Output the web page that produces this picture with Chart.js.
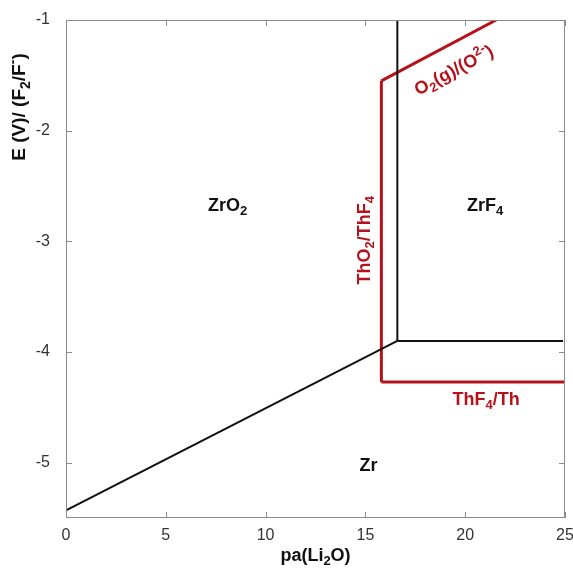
<!DOCTYPE html>
<html>
<head>
<meta charset="utf-8">
<script src="https://cdn.jsdelivr.net/npm/chart.js@4"></script>
<style>
    html, body { margin: 0; padding: 0; background: #fff; }
    #wrap { width: 573px; height: 569px; }
</style>
</head>
<body>
<div id="wrap"><canvas id="chart" width="573" height="569"></canvas></div>
<script>
// 軸の目盛り
const xTicks = [0, 5, 10, 15, 20, 25];
const yTicks = [-1, -2, -3, -4, -5];

// Zr 系の境界線（黒）
const zrO2ZrX = [0, 16.6];
const zrO2ZrY = [-5.43, -3.9];
const zrO2ZrF4X = [16.6, 16.6];
const zrO2ZrF4Y = [-3.9, -1];
const zrF4ZrX = [16.6, 24.9];
const zrF4ZrY = [-3.9, -3.9];

// Th 系の境界線（赤）
const thO2ThF4X = [15.8, 15.8];
const thO2ThF4Y = [-4.27, -1.55];
const o2X = [15.8, 21.55];
const o2Y = [-1.55, -1];
const thF4ThX = [15.8, 25];
const thF4ThY = [-4.27, -4.27];

const RED = '#b5121b';
const FONT = '"Liberation Sans", Arial, sans-serif';

// 領域ラベル（テキスト部品: [文字, 'sub' | 'sup' | '']）
const regionLabels = [
    { parts: [['ZrO', ''], ['2', 'sub']], x: 8.1, y: -2.68, color: '#111', angle: 0 },
    { parts: [['ZrF', ''], ['4', 'sub']], x: 21.0, y: -2.68, color: '#111', angle: 0 },
    { parts: [['Zr', '']], x: 15.15, y: -5.03, color: '#111', angle: 0 },
    { parts: [['ThO', ''], ['2', 'sub'], ['/ThF', ''], ['4', 'sub']], x: 15.0, y: -2.99, color: RED, angle: -90 },
    { parts: [['O', ''], ['2', 'sub'], ['(g)/(O', ''], ['2-', 'sup'], [')', '']], x: 19.45, y: -1.46, color: RED, angle: -28 },
    { parts: [['ThF', ''], ['4', 'sub'], ['/Th', '']], x: 21.05, y: -4.43, color: RED, angle: 0 }
];

function line(xs, ys, color, width) {
    return {
        data: xs.map((x, i) => ({ x: x, y: ys[i] })),
        showLine: true,
        borderColor: color,
        borderWidth: width,
        pointRadius: 0,
        fill: false,
        tension: 0
    };
}

// 下付き・上付きを含む文字列の描画
function drawRich(ctx, parts, x, y, size, color, angle) {
    const small = Math.round(size * 0.72);
    let total = 0;
    parts.forEach(p => {
        ctx.font = `bold ${p[1] ? small : size}px ${FONT}`;
        total += ctx.measureText(p[0]).width;
    });
    ctx.save();
    ctx.translate(x, y);
    ctx.rotate(angle * Math.PI / 180);
    ctx.fillStyle = color;
    ctx.textBaseline = 'middle';
    ctx.textAlign = 'left';
    let cx = -total / 2;
    parts.forEach(p => {
        ctx.font = `bold ${p[1] ? small : size}px ${FONT}`;
        let dy = 0;
        if (p[1] === 'sub') dy = size * 0.3;
        if (p[1] === 'sup') dy = -size * 0.35;
        ctx.fillText(p[0], cx, dy);
        cx += ctx.measureText(p[0]).width;
    });
    ctx.restore();
}

// 枠線と内向きの目盛り、ラベルを描くプラグイン
const framePlugin = {
    id: 'frame',
    afterDatasetsDraw(chart) {
        const ctx = chart.ctx;
        const a = chart.chartArea;
        const xs = chart.scales.x;
        const ys = chart.scales.y;
        ctx.save();
        ctx.strokeStyle = '#8a8a8a';
        ctx.lineWidth = 1;
        ctx.strokeRect(a.left + 0.5, a.top + 0.5, a.right - a.left - 1, a.bottom - a.top - 1);
        ctx.beginPath();
        xTicks.forEach(v => {
            const px = Math.round(xs.getPixelForValue(v)) + 0.5;
            ctx.moveTo(px, a.bottom); ctx.lineTo(px, a.bottom - 6);
            ctx.moveTo(px, a.top); ctx.lineTo(px, a.top + 6);
        });
        yTicks.forEach(v => {
            const py = Math.round(ys.getPixelForValue(v)) + 0.5;
            ctx.moveTo(a.left, py); ctx.lineTo(a.left + 6, py);
            ctx.moveTo(a.right, py); ctx.lineTo(a.right - 6, py);
        });
        ctx.stroke();
        ctx.restore();

        regionLabels.forEach(l => {
            drawRich(ctx, l.parts, xs.getPixelForValue(l.x), ys.getPixelForValue(l.y), 18, l.color, l.angle);
        });

        // 軸タイトル
        drawRich(ctx, [['pa(Li', ''], ['2', 'sub'], ['O)', '']], (a.left + a.right) / 2, 556, 18, '#111', 0);
        drawRich(ctx, [['E (V)/ (F', ''], ['2', 'sub'], ['/F', ''], ['-', 'sup'], [')', '']], 20, 107, 19, '#111', -90);
    }
};

const tickFont = { family: FONT, size: 16 };

new Chart(document.getElementById('chart'), {
    type: 'scatter',
    data: {
        datasets: [
            line(zrO2ZrX, zrO2ZrY, '#111', 2),
            line(zrO2ZrF4X, zrO2ZrF4Y, '#111', 2),
            line(zrF4ZrX, zrF4ZrY, '#111', 2),
            line(thO2ThF4X, thO2ThF4Y, RED, 3),
            line(o2X, o2Y, RED, 3),
            line(thF4ThX, thF4ThY, RED, 3)
        ]
    },
    options: {
        responsive: false,
        animation: false,
        layout: { padding: { top: 20, right: 8, bottom: 0, left: 0 } },
        plugins: {
            legend: { display: false },
            tooltip: { enabled: false }
        },
        scales: {
            x: {
                type: 'linear',
                min: 0,
                max: 25,
                afterBuildTicks: s => { s.ticks = xTicks.map(v => ({ value: v })); },
                afterFit: s => { s.height = 51; s.paddingLeft = 0; s.paddingRight = 0; },
                grid: { display: false },
                border: { display: false },
                ticks: { font: tickFont, color: '#333', padding: 0, maxRotation: 0 }
            },
            y: {
                type: 'linear',
                min: -5.5,
                max: -1,
                afterBuildTicks: s => { s.ticks = yTicks.map(v => ({ value: v })); },
                afterFit: s => { s.width = 66; s.paddingTop = 0; s.paddingBottom = 0; },
                grid: { display: false },
                border: { display: false },
                ticks: { font: tickFont, color: '#333', padding: 8 }
            }
        }
    },
    plugins: [framePlugin]
});
</script>
</body>
</html>
